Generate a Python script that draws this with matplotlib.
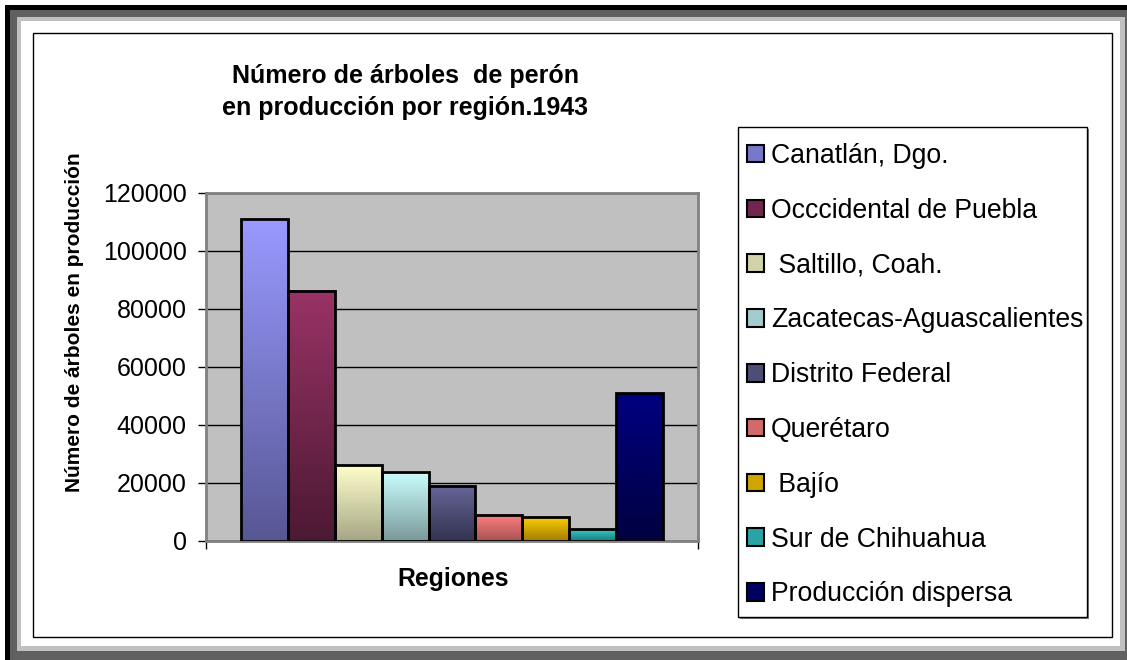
import numpy as np
import matplotlib
matplotlib.use("Agg")
import matplotlib.pyplot as plt
from matplotlib.patches import Rectangle, Patch
from matplotlib.colors import to_rgb

plt.rcParams['font.family'] = ['Liberation Sans', 'DejaVu Sans']

# ---- data ----
regions = ["Canatlán, Dgo.", "Occcidental de Puebla", " Saltillo, Coah.",
           "Zacatecas-Aguascalientes", "Distrito Federal", "Querétaro",
           " Bajío", "Sur de Chihuahua", "Producción dispersa"]
trees = [111000, 86300, 26200, 23900, 19000, 9000, 8200, 4000, 50900]
top_colors = ["#9999FF", "#993366", "#FFFFCC", "#CCFFFF", "#666699",
              "#FF8080", "#FFCC00", "#33CCCC", "#000080"]
bottom_colors = ["#575794", "#4c1933", "#a6a686", "#7a9999", "#333350",
                 "#a65353", "#9e7e00", "#1f7a7a", "#000040"]
yticks = [0, 20000, 40000, 60000, 80000, 100000, 120000]
title = "Número de árboles  de perón\nen producción por región.1943"
ylabel = "Número de árboles en producción"
xlabel = "Regiones"

W, H = 1127, 660
fig = plt.figure(figsize=(W / 100, H / 100), dpi=100)
fig.patch.set_facecolor("white")


def frect(x0, y0, x1, y1, **kw):
    r = Rectangle((x0 / W, 1 - y1 / H), (x1 - x0) / W, (y1 - y0) / H,
                  transform=fig.transFigure, figure=fig, **kw)
    fig.add_artist(r)
    return r

# outer frame
frect(5, 5, W + 5, H + 5, facecolor="black", edgecolor="none", zorder=-10)
frect(10, 10, W + 5, H + 5, facecolor="#606060", edgecolor="none", zorder=-9)
frect(17, 17, 1125, 651, facecolor="#c0c0c0", edgecolor="none", zorder=-8)
frect(21, 21, 1120, 646, facecolor="white", edgecolor="none", zorder=-7)
frect(32.5, 32.5, 1111.5, 637, facecolor="none", edgecolor="black", lw=1.0, zorder=-6)

# plot area
L, R, T, B = 206, 698, 193, 541
ax = fig.add_axes([L / W, 1 - B / H, (R - L) / W, (B - T) / H])
ax.set_facecolor("#c0c0c0")
n = len(trees)
x = np.arange(n) - (n - 1) / 2
bars = ax.bar(x, trees, width=1.0, facecolor="none", edgecolor="black",
              linewidth=2.0, zorder=3)
for b, ct, cb in zip(bars, top_colors, bottom_colors):
    t = np.array(to_rgb(ct)); bo = np.array(to_rgb(cb))
    f = np.linspace(0, 1, 128)[:, None]
    grad = (t[None, :] * (1 - f) + bo[None, :] * f)[:, None, :]
    x0 = b.get_x(); w = b.get_width(); h = b.get_height()
    ax.imshow(grad, extent=[x0, x0 + w, 0, h], aspect="auto", zorder=2,
              interpolation="bilinear", origin="upper")

ax.set_xlim(-n / 2 - 0.74, n / 2 + 0.74)
ax.set_ylim(0, 120000)
ax.set_yticks(yticks)
ax.set_yticklabels([str(v) for v in yticks], fontsize=18)
ax.yaxis.grid(True, color="black", linewidth=1.0, zorder=1)
ax.set_axisbelow(True)
ax.set_xticks([ax.get_xlim()[0], ax.get_xlim()[1]])
ax.set_xticklabels(["", ""])
ax.tick_params(axis="both", direction="out", length=5.8, width=1, color="black")
ax.tick_params(axis="y", pad=8)
for s in ax.spines.values():
    s.set_color("#808080")
    s.set_linewidth(2)

fig.text(405 / W, 1 - 92 / H, title, ha="center", va="center", fontsize=18,
         fontweight="bold", linespacing=1.4)
fig.text(75 / W, 1 - 322 / H, ylabel, ha="center", va="center", rotation=90,
         fontsize=15, fontweight="bold")
fig.text(453 / W, 1 - 579 / H, xlabel, ha="center", va="center", fontsize=17.8,
         fontweight="bold")

# legend box
frect(739.5, 128.5, 1088.5, 618.5, facecolor="#808080", edgecolor="none", zorder=4)
frect(738, 127, 1087, 617, facecolor="white", edgecolor="black", lw=1.0, zorder=5)

handles = [Patch(facecolor=tuple((np.array(to_rgb(a)) + np.array(to_rgb(c))) / 2),
                 edgecolor="black", linewidth=1.5) for a, c in zip(top_colors, bottom_colors)]
leg = fig.legend(handles, regions, loc="upper left",
                 bbox_to_anchor=(747 / W, 1 - 143 / H), fontsize=19.2,
                 frameon=False, handlelength=0.64, handleheight=0.64,
                 handletextpad=0.26, labelspacing=1.08, borderpad=0,
                 borderaxespad=0)
leg.set_zorder(6)

fig.savefig("out.png", dpi=100)
